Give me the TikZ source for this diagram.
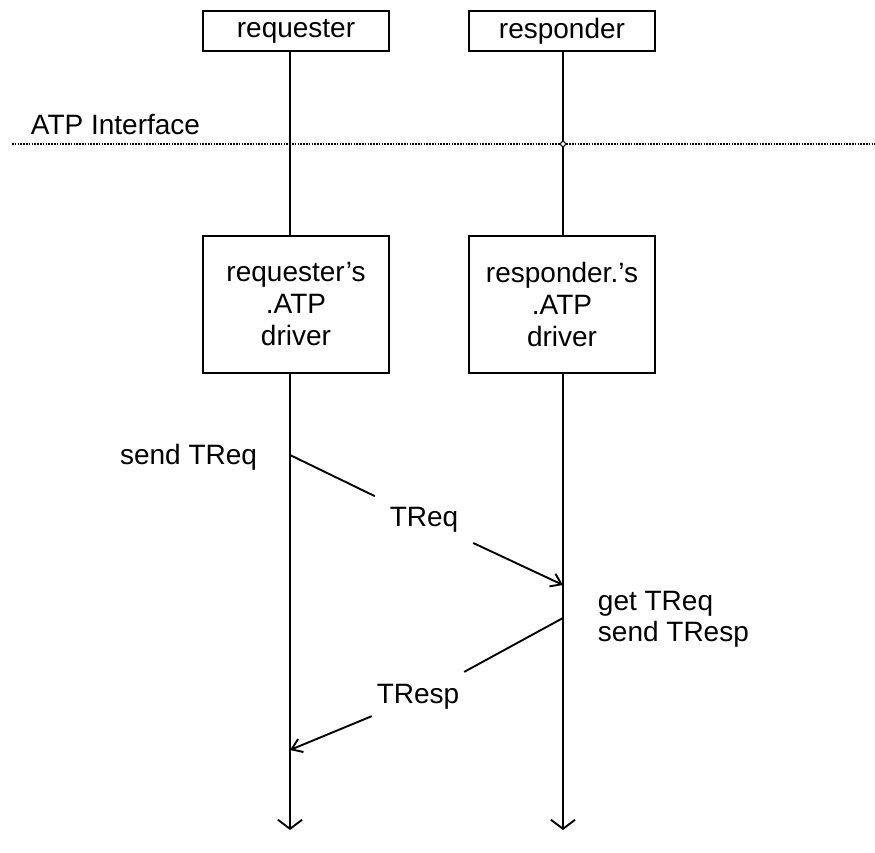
\documentclass[tikz,border=0pt]{standalone}
\usepackage{fontspec}
\setmainfont{Liberation Sans}
\usetikzlibrary{arrows.meta}
\begin{document}
\begin{tikzpicture}[x=1pt,y=-1pt,
  font=\fontsize{28}{32}\selectfont,
  line width=1.9pt,
  box/.style={draw, line width=1.9pt, minimum width=186pt, inner sep=0pt, align=center},
  lbl/.style={inner sep=0pt},
  gaplbl/.style={inner xsep=14pt, minimum height=60pt},
  endtip/.style={-{Straight Barb[length=9pt,width=24pt,line width=1.9pt]}},
  msgtip/.style={-{Straight Barb[length=10pt,width=14pt,line width=1.9pt]}}]
\useasboundingbox (0,0) rectangle (875,853);

% lifeline x positions
\coordinate (L) at (290,0);
\coordinate (R) at (563,0);

% top boxes
\node[box, minimum height=40pt] (req) at (296,31) {requester};
\node[box, minimum height=40pt] (resp) at (562,31) {responder};

% interface line
\coordinate (ifl) at (12,144);
\coordinate (ifr) at (875,144);
\draw[line width=1.5pt, dash pattern=on 1.6pt off 1.2pt] (ifl) -- (ifr);
\node[lbl, anchor=base west] (atp) at (30,135) {ATP Interface};

% driver boxes
\node[box, minimum height=137pt] (dreq) at (296,304.5) {requester's\\.ATP\\driver};
\node[box, minimum height=137pt] (dresp) at (562,304.5) {responder.'s\\.ATP\\driver};

% lifelines
\coordinate (Lend) at (290,830);
\coordinate (Rend) at (563,830);
\draw (req.south -| L) -- (dreq.north -| L);
\draw (resp.south -| R) -- (dresp.north -| R);
\draw[endtip] (dreq.south -| L) -- (Lend);
\draw[endtip] (dresp.south -| R) -- (Rend);
\node[draw, circle, fill=white, inner sep=0pt, minimum size=5pt, line width=1pt] (cross) at (563,144) {};

% messages
\coordinate (sreq) at (290,455);
\coordinate (greq) at (563,585);
\coordinate (sresp) at (563,618);
\coordinate (gresp) at (290,750);
\node[lbl, anchor=base east] (tsreq) at (258,464) {send TReq};
\node[lbl, anchor=base west] (tgreq) at (597,610) {get TReq};
\node[lbl, anchor=base west] (tsresp) at (597,641) {send TResp};
\node[gaplbl] (ltreq) at (424,520) {TReq};
\node[gaplbl, inner xsep=4pt] (ltresp) at (418,697) {TResp};
\draw (sreq) -- (ltreq);
\draw[msgtip] (ltreq) -- (greq);
\draw (sresp) -- (ltresp);
\draw[msgtip] (ltresp) -- (gresp);
\end{tikzpicture}
\end{document}
